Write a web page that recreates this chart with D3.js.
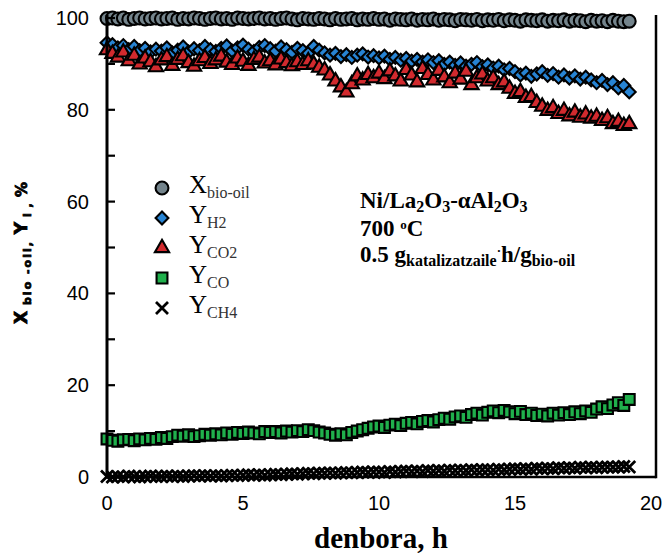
<!DOCTYPE html>
<html>
<head>
<meta charset="utf-8">
<script src="https://cdn.jsdelivr.net/npm/d3@7"></script>
<style>
  body { margin: 0; background: #fff; }
  svg { display: block; }
</style>
</head>
<body>
<svg></svg>
<script>
// time on stream, h
const time = [
  0, 0.2, 0.4, 0.6, 0.8, 1, 1.2, 1.4, 1.6, 1.8,
  2, 2.2, 2.4, 2.6, 2.8, 3, 3.2, 3.4, 3.6, 3.8,
  4, 4.2, 4.4, 4.6, 4.8, 5, 5.2, 5.4, 5.6, 5.8,
  6, 6.2, 6.4, 6.6, 6.8, 7, 7.2, 7.4, 7.6, 7.8,
  8, 8.2, 8.4, 8.6, 8.8, 9, 9.2, 9.4, 9.6, 9.8,
  10, 10.2, 10.4, 10.6, 10.8, 11, 11.2, 11.4, 11.6, 11.8,
  12, 12.2, 12.4, 12.6, 12.8, 13, 13.2, 13.4, 13.6, 13.8,
  14, 14.2, 14.4, 14.6, 14.8, 15, 15.2, 15.4, 15.6, 15.8,
  16, 16.2, 16.4, 16.6, 16.8, 17, 17.2, 17.4, 17.6, 17.8,
  18, 18.2, 18.4, 18.6, 18.8, 19, 19.2
];

const xBioOil = [
  99.9, 100, 99.8, 100, 99.7, 99.9, 100, 99.8, 99.9, 100,
  99.8, 99.9, 100, 99.7, 99.9, 99.8, 100, 99.9, 99.7, 99.9,
  100, 99.8, 99.9, 99.7, 100, 99.9, 99.8, 99.9, 100, 99.8,
  99.9, 99.7, 99.9, 100, 99.8, 99.6, 99.9, 99.8, 99.7, 99.9,
  99.8, 99.6, 99.9, 99.7, 99.8, 99.9, 99.6, 99.8, 99.7, 99.9,
  99.7, 99.8, 99.5, 99.8, 99.7, 99.6, 99.8, 99.5, 99.7, 99.6,
  99.8, 99.5, 99.7, 99.6, 99.4, 99.7, 99.6, 99.5, 99.7, 99.4,
  99.6, 99.5, 99.7, 99.4, 99.6, 99.5, 99.3, 99.6, 99.5, 99.4,
  99.6, 99.3, 99.5, 99.4, 99.6, 99.3, 99.5, 99.4, 99.2, 99.5,
  99.3, 99.4, 99.2, 99.5, 99.3, 99.2, 99.3
];

const yH2 = [
  94.6, 94.2, 93.5, 94.0, 93.1, 93.8, 92.9, 93.4, 92.6, 93.2,
  92.8, 93.5, 92.4, 93.0, 93.7, 92.6, 93.3, 92.9, 93.8, 93.1,
  92.7, 93.4, 93.9, 92.8, 93.5, 94.1, 93.2, 92.7, 93.6, 94.0,
  93.3, 92.8, 93.7, 93.1, 92.5, 93.4, 92.9, 92.3, 93.8, 93.0,
  92.4, 91.9, 92.3, 91.6, 92.0, 91.4, 91.9, 92.2, 91.5, 91.8,
  91.3, 91.7, 91.0, 91.4, 90.8, 91.2, 90.6, 91.0, 90.4, 90.9,
  90.3, 90.7, 89.9, 90.4, 89.7, 90.2, 89.5, 89.9, 90.3, 89.4,
  89.8, 89.1, 89.5, 88.7, 89.0, 88.3, 87.6, 88.0, 87.3, 87.8,
  88.3, 87.5, 87.9, 87.1, 87.6, 86.9, 87.4, 86.7, 87.1, 86.5,
  85.9, 86.4, 85.5, 85.9, 84.8, 85.3, 83.9
];

const yCO2 = [
  93.0, 92.2, 91.4, 92.5, 90.6, 91.8, 89.9, 91.2, 90.4, 89.3,
  90.8, 91.5, 89.6, 90.9, 91.7, 90.2, 89.4, 90.6, 91.3, 90.0,
  90.8, 91.6, 90.3, 89.8, 91.2, 90.5, 89.6, 90.9, 91.4, 90.1,
  90.6, 89.7, 91.0, 90.2, 89.5, 90.4, 89.8, 90.6, 89.9, 89.2,
  88.6, 87.5, 86.2, 84.9, 83.8, 85.6, 87.3, 86.4, 87.6, 86.9,
  87.9, 86.7, 88.4, 87.3, 86.2, 88.7, 87.5, 86.0, 88.9, 87.6,
  86.4, 88.5, 87.1, 85.8, 87.9, 86.6, 88.3, 85.4, 86.9, 87.7,
  86.2, 86.9, 85.4, 86.0, 84.6, 83.5, 83.9, 82.6, 82.8, 81.5,
  80.7, 79.8, 80.4, 79.1, 79.8, 78.6, 79.4, 78.3, 79.0, 78.1,
  78.5, 77.6, 78.2, 76.9, 77.4, 76.5, 76.9
];

const yCO = [
  8.3, 8.0, 7.8, 8.1, 8.2, 7.9, 8.3, 8.1, 8.4, 8.2,
  8.6, 8.4, 8.8, 9.1, 8.9, 9.2, 8.8, 9.0, 9.3, 9.1,
  9.4, 9.2, 9.6, 9.3, 9.7, 9.5, 9.8, 9.6, 9.4, 9.9,
  9.7, 9.9, 9.6, 10.0, 9.8, 10.1, 9.9, 10.3, 10.1, 9.8,
  9.6, 9.3, 9.1, 9.4, 9.2, 9.7, 10.0, 10.3, 10.6, 10.9,
  11.1, 10.8, 11.3, 11.5, 11.2, 11.7, 11.9, 11.6, 12.1, 12.3,
  12.0, 12.5, 12.8, 12.6, 13.1, 13.3, 13.0, 13.6, 13.9, 13.5,
  14.1, 14.4, 14.0, 14.5, 14.2, 13.8, 14.3, 13.6, 13.9, 13.4,
  13.7, 13.3, 13.9, 13.5, 14.0, 13.6, 14.2, 13.8, 14.4, 14.1,
  14.8, 15.3, 14.9, 15.7, 16.2, 15.6, 16.9
];

const yCH4 = [
  0.1, 0.0, 0.1, 0.0, 0.2, 0.1, 0.0, 0.1, 0.2, 0.1,
  0.1, 0.2, 0.1, 0.2, 0.1, 0.2, 0.3, 0.2, 0.3, 0.2,
  0.3, 0.2, 0.3, 0.4, 0.3, 0.4, 0.5, 0.4, 0.5, 0.4,
  0.5, 0.6, 0.5, 0.6, 0.7, 0.6, 0.7, 0.8, 0.7, 0.8,
  0.8, 0.9, 0.8, 0.9, 1.0, 0.9, 1.0, 1.1, 1.0, 1.1,
  1.1, 1.0, 1.2, 1.1, 1.2, 1.3, 1.2, 1.3, 1.2, 1.4,
  1.3, 1.4, 1.3, 1.5, 1.4, 1.5, 1.4, 1.6, 1.5, 1.6,
  1.6, 1.5, 1.7, 1.6, 1.7, 1.8, 1.7, 1.8, 1.7, 1.9,
  1.8, 1.9, 1.8, 2.0, 1.9, 2.0, 1.9, 2.1, 2.0, 2.1,
  2.0, 2.1, 2.2, 2.1, 2.2, 2.3, 2.2
];

const xTicks = [0, 5, 10, 15, 20];
const yTicks = [0, 20, 40, 60, 80, 100];
const yMinorTicks = [0, 10, 20, 30, 40, 50, 60, 70, 80, 90, 100];

const width = 663;
const height = 555;
const sans = "'Liberation Sans', Arial, sans-serif";
const serif = "'Liberation Serif', 'Times New Roman', serif";

const svg = d3.select("svg")
    .attr("width", width)
    .attr("height", height);

const x = d3.scaleLinear().domain([0, 20]).range([107, 651]);
const y = d3.scaleLinear().domain([0, 100]).range([477, 18]);

// series: shape + colours
const series = [
  {name: "X", sub: "bio-oil", values: xBioOil, shape: "circle", fill: "#74848c"},
  {name: "Y", sub: "H2", values: yH2, shape: "diamond", fill: "#2784d4"},
  {name: "Y", sub: "CO2", values: yCO2, shape: "triangle", fill: "#d22a2e"},
  {name: "Y", sub: "CO", values: yCO, shape: "square", fill: "#20b04c"},
  {name: "Y", sub: "CH4", values: yCH4, shape: "cross", fill: "#000"}
];

function shapePath(shape) {
  if (shape === "circle") return d3.symbol(d3.symbolCircle, 130)();
  if (shape === "diamond") return d3.symbol(d3.symbolSquare, 82)();
  if (shape === "triangle") return d3.symbol(d3.symbolTriangle, 88)();
  if (shape === "square") return d3.symbol(d3.symbolSquare, 118)();
  return "M-6,-6L6,6M-6,6L6,-6";
}

function drawMarker(sel, shape, fill) {
  const p = sel.append("path").attr("d", shapePath(shape));
  if (shape === "cross") {
    p.attr("fill", "none").attr("stroke", "#000").attr("stroke-width", 2.8);
  } else {
    p.attr("fill", fill).attr("stroke", "#000").attr("stroke-width", 2.1);
  }
  if (shape === "diamond") p.attr("transform", "rotate(45)");
}

// markers
series.forEach(s => {
  svg.append("g")
    .selectAll("g")
    .data(time.map((t, i) => [t, s.values[i]]))
    .enter()
    .append("g")
      .attr("transform", d => `translate(${x(d[0])},${y(d[1])})`)
      .each(function() { drawMarker(d3.select(this), s.shape, s.fill); });
});

// axes
const axisColor = "#000";
svg.append("line")
    .attr("x1", x(0)).attr("x2", x(0))
    .attr("y1", 15).attr("y2", y(0) + 1.5)
    .attr("stroke", axisColor).attr("stroke-width", 3);
svg.append("line")
    .attr("x1", x(0)).attr("x2", 656)
    .attr("y1", y(0)).attr("y2", y(0))
    .attr("stroke", axisColor).attr("stroke-width", 2.5);
svg.append("line")
    .attr("x1", 656).attr("x2", 656)
    .attr("y1", 15).attr("y2", y(0) + 1.2)
    .attr("stroke", axisColor).attr("stroke-width", 2.5);

svg.append("g")
  .selectAll("line")
  .data(yMinorTicks)
  .enter()
  .append("line")
    .attr("x1", x(0)).attr("x2", x(0) + 8)
    .attr("y1", d => y(d)).attr("y2", d => y(d))
    .attr("stroke", axisColor).attr("stroke-width", 2.2);

svg.append("g")
  .selectAll("text")
  .data(yTicks)
  .enter()
  .append("text")
    .attr("x", 89)
    .attr("y", d => y(d) + 7)
    .attr("text-anchor", "end")
    .attr("font-family", sans)
    .attr("font-size", 20)
    .text(d => d);

svg.append("g")
  .selectAll("text")
  .data(xTicks)
  .enter()
  .append("text")
    .attr("x", d => x(d))
    .attr("y", 510)
    .attr("text-anchor", "middle")
    .attr("font-family", sans)
    .attr("font-size", 20)
    .text(d => d);

// x title
svg.append("text")
    .attr("x", 381)
    .attr("y", 548)
    .attr("text-anchor", "middle")
    .attr("font-family", serif)
    .attr("font-weight", "bold")
    .attr("font-size", 29)
    .text("denbora, h");

// y title (heavy, blotchy in the original)
const yTitle = svg.append("text")
    .attr("transform", "translate(27,253) rotate(-90)")
    .attr("text-anchor", "middle")
    .attr("font-family", "'DejaVu Sans', sans-serif")
    .attr("font-weight", "bold")
    .attr("font-size", 17)
    .attr("stroke", "#000")
    .attr("stroke-width", 0.8);
yTitle.append("tspan").text("X");
yTitle.append("tspan").attr("font-size", 11).attr("dy", 4).attr("letter-spacing", 2).text("  bio -oil,");
yTitle.append("tspan").attr("dy", -4).text("  Y");
yTitle.append("tspan").attr("font-size", 11).attr("dy", 4).attr("letter-spacing", 1).text("  i ,");
yTitle.append("tspan").attr("dy", -4).attr("font-size", 15).text(" %");

// legend
const legendRows = [188, 218, 248, 278, 308];
const legend = svg.append("g");
series.forEach((s, i) => {
  const row = legend.append("g").attr("transform", `translate(162,${legendRows[i]})`);
  drawMarker(row, s.shape, s.fill);
  const t = row.append("text")
      .attr("x", 27)
      .attr("y", 5)
      .attr("font-family", serif)
      .attr("font-size", 25);
  t.append("tspan").text(s.name);
  t.append("tspan").attr("font-size", 16).attr("dy", 5).attr("fill", "#333").text(s.sub);
});

// annotation
const note = svg.append("g")
    .attr("font-family", serif)
    .attr("font-weight", "bold")
    .attr("font-size", 23);

function writeLine(yPos, parts) {
  const t = note.append("text").attr("x", 360).attr("y", yPos);
  let shift = 0;
  parts.forEach(p => {
    const sp = t.append("tspan").text(p[0]);
    const want = p[1] === "sub" ? 4 : p[1] === "sup" ? -7 : 0;
    sp.attr("dy", want - shift);
    shift = want;
    if (p[1]) sp.attr("font-size", p[1] === "sup" ? 13 : 16);
  });
}

writeLine(208, [["Ni/La"], ["2", "sub"], ["O"], ["3", "sub"], ["-\u03b1Al"], ["2", "sub"], ["O"], ["3", "sub"]]);
writeLine(236, [["700 "], ["o", "sup"], ["C"]]);
writeLine(262, [["0.5 g"], ["katalizatzaile", "sub"], ["\u00b7", "sup"], ["h/g"], ["bio-oil", "sub"]]);
</script>
</body>
</html>
